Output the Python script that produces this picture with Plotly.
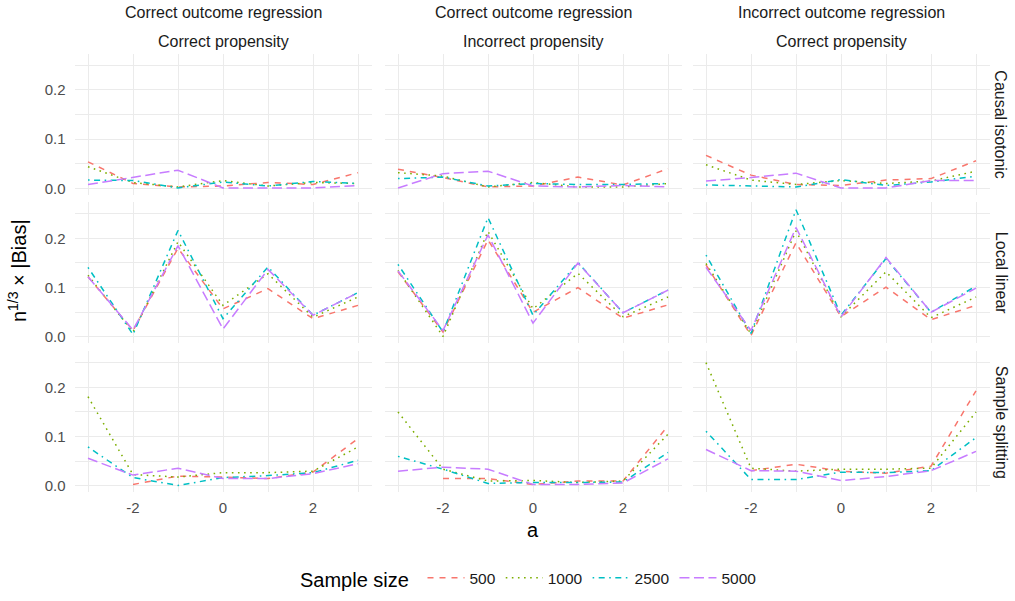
import plotly.graph_objects as go

W, H = 1015, 601

a_vals = [-3, -2, -1, 0, 1, 2, 3]
sample_sizes = ["500", "1000", "2500", "5000"]
col_top_labels = ["Correct outcome regression", "Correct outcome regression", "Incorrect outcome regression"]
col_bot_labels = ["Correct propensity", "Incorrect propensity", "Correct propensity"]
row_labels = ["Causal isotonic", "Local linear", "Sample splitting"]

# Row 1: Causal isotonic
iso_500 = [[0.054, 0.010, 0.003, 0.005, 0.012, 0.008, 0.032],
           [0.039, 0.022, 0.003, 0.005, 0.023, 0.007, 0.040],
           [0.067, 0.027, 0.008, 0.006, 0.017, 0.020, 0.056]]
iso_1000 = [[0.044, 0.012, 0.003, 0.016, 0.005, 0.012, 0.010],
            [0.032, 0.025, 0.003, 0.012, 0.003, 0.003, 0.010],
            [0.048, 0.017, 0.008, 0.016, 0.010, 0.015, 0.035]]
iso_2500 = [[0.017, 0.016, 0.001, 0.013, 0.005, 0.014, 0.010],
            [0.020, 0.023, 0.005, 0.010, 0.008, 0.008, 0.010],
            [0.007, 0.005, 0.003, 0.018, 0.006, 0.013, 0.025]]
iso_5000 = [[0.008, 0.022, 0.037, 0.001, 0.001, 0.001, 0.006],
            [0.001, 0.030, 0.035, 0.005, 0.003, 0.006, 0.003],
            [0.015, 0.022, 0.031, 0.001, 0.001, 0.016, 0.016]]

# Row 2: Local linear
ll_500 = [[0.122, 0.013, 0.180, 0.057, 0.098, 0.037, 0.064],
          [0.132, 0.010, 0.197, 0.050, 0.100, 0.038, 0.065],
          [0.146, 0.003, 0.191, 0.041, 0.101, 0.035, 0.064]]
ll_1000 = [[0.125, 0.010, 0.193, 0.064, 0.128, 0.040, 0.081],
           [0.135, 0.001, 0.214, 0.057, 0.129, 0.041, 0.081],
           [0.149, 0.006, 0.215, 0.041, 0.132, 0.039, 0.081]]
ll_2500 = [[0.141, 0.005, 0.216, 0.037, 0.142, 0.044, 0.090],
           [0.147, 0.010, 0.242, 0.044, 0.151, 0.049, 0.095],
           [0.166, 0.007, 0.258, 0.044, 0.159, 0.050, 0.103]]
ll_5000 = [[0.122, 0.014, 0.185, 0.016, 0.137, 0.044, 0.090],
           [0.134, 0.013, 0.207, 0.028, 0.150, 0.049, 0.095],
           [0.141, 0.013, 0.222, 0.041, 0.161, 0.050, 0.099]]

# Row 3: Sample splitting (500 missing at a = -3)
ss_500 = [[None, 0.003, 0.020, 0.018, 0.015, 0.028, 0.096],
          [None, 0.015, 0.015, 0.003, 0.010, 0.010, 0.122],
          [None, 0.031, 0.044, 0.030, 0.026, 0.040, 0.193]]
ss_1000 = [[0.181, 0.023, 0.018, 0.027, 0.027, 0.030, 0.079],
           [0.150, 0.034, 0.010, 0.011, 0.007, 0.010, 0.105],
           [0.250, 0.036, 0.030, 0.034, 0.034, 0.036, 0.150]]
ss_2500 = [[0.079, 0.017, 0.001, 0.017, 0.021, 0.027, 0.052],
           [0.060, 0.034, 0.005, 0.007, 0.007, 0.008, 0.068],
           [0.111, 0.013, 0.013, 0.028, 0.027, 0.031, 0.098]]
ss_5000 = [[0.056, 0.022, 0.036, 0.015, 0.015, 0.025, 0.045],
           [0.030, 0.038, 0.034, 0.003, 0.003, 0.006, 0.055],
           [0.074, 0.031, 0.030, 0.011, 0.019, 0.031, 0.070]]

series_by_row = [
    {"500": iso_500, "1000": iso_1000, "2500": iso_2500, "5000": iso_5000},
    {"500": ll_500, "1000": ll_1000, "2500": ll_2500, "5000": ll_5000},
    {"500": ss_500, "1000": ss_1000, "2500": ss_2500, "5000": ss_5000},
]

colors = {"500": "#F8766D", "1000": "#7CAE00", "2500": "#00BFC4", "5000": "#C77CFF"}
dashes = {"500": "6px,6px", "1000": "1.6px,4.5px", "2500": "1.6px,4.5px,6px,4.5px", "5000": "10px,4.5px"}

# panel geometry in window pixels
col_px = [(74.5, 371.5), (384.5, 681.5), (692.5, 989.5)]
row_px = [(54, 195.5), (203, 344.5), (352.5, 494)]


def px(xw):
    return xw / W


def py(yw):
    return 1 - yw / H


FONT = "Liberation Sans, Arial, sans-serif"
fig = go.Figure()
layout = dict(
    width=W, height=H, margin=dict(l=0, r=0, t=0, b=0),
    paper_bgcolor="white", plot_bgcolor="white",
    font=dict(family=FONT, color="#1A1A1A"),
    showlegend=True,
)

for r in range(3):
    for c in range(3):
        idx = r * 3 + c + 1
        xa = "x" if idx == 1 else f"x{idx}"
        ya = "y" if idx == 1 else f"y{idx}"
        for s in sample_sizes:
            fig.add_trace(go.Scatter(
                x=a_vals, y=series_by_row[r][s][c], mode="lines",
                line=dict(color=colors[s], dash=dashes[s], width=1.5),
                name=s, legendgroup=s, showlegend=(idx == 1),
                xaxis=xa, yaxis=ya, connectgaps=False,
            ))
        x0, x1 = col_px[c]
        y0, y1 = row_px[r]
        layout["xaxis" if idx == 1 else f"xaxis{idx}"] = dict(
            domain=[px(x0), px(x1)], anchor=ya, range=[-3.3, 3.3],
            tickvals=[-2, 0, 2], ticktext=["-2", "0", "2"],
            showticklabels=(r == 2), ticks="", ticklabelstandoff=5,
            showgrid=True, gridcolor="#EBEBEB", gridwidth=1.1,
            minor=dict(tickvals=[-3, -1, 1, 3], showgrid=True, gridcolor="#EBEBEB", gridwidth=0.6),
            zeroline=False, showline=False,
            tickfont=dict(size=15, color="#4D4D4D", family=FONT),
        )
        layout["yaxis" if idx == 1 else f"yaxis{idx}"] = dict(
            domain=[py(y1), py(y0)], anchor=xa, range=[-0.013, 0.273],
            tickvals=[0, 0.1, 0.2], ticktext=["0.0", "0.1", "0.2"],
            showticklabels=(c == 0), ticks="", ticklabelstandoff=8,
            showgrid=True, gridcolor="#EBEBEB", gridwidth=1.1,
            minor=dict(tickvals=[0.05, 0.15, 0.25], showgrid=True, gridcolor="#EBEBEB", gridwidth=0.6),
            zeroline=False, showline=False,
            tickfont=dict(size=15, color="#4D4D4D", family=FONT),
        )

annotations = []
for c in range(3):
    cx = px((col_px[c][0] + col_px[c][1]) / 2)
    annotations.append(dict(x=cx, y=py(13), xref="paper", yref="paper", text=col_top_labels[c],
                            showarrow=False, font=dict(size=16, color="#1A1A1A"), xanchor="center", yanchor="middle"))
    annotations.append(dict(x=cx, y=py(42), xref="paper", yref="paper", text=col_bot_labels[c],
                            showarrow=False, font=dict(size=16, color="#1A1A1A"), xanchor="center", yanchor="middle"))
for r in range(3):
    cy = py((row_px[r][0] + row_px[r][1]) / 2)
    annotations.append(dict(x=px(1001), y=cy, xref="paper", yref="paper", text=row_labels[r], textangle=90,
                            showarrow=False, font=dict(size=16, color="#1A1A1A"), xanchor="center", yanchor="middle"))
annotations.append(dict(x=px(17), y=py(272), xref="paper", yref="paper",
                        text="n<sup>1/3</sup> × |Bias|", textangle=-90, showarrow=False,
                        font=dict(size=20, color="#000000"), xanchor="center", yanchor="middle"))
annotations.append(dict(x=px(533), y=py(519), xref="paper", yref="paper", text="a", showarrow=False,
                        font=dict(size=20, color="#000000"), xanchor="center", yanchor="top"))
layout["annotations"] = annotations
layout["legend"] = dict(
    orientation="h", x=px(530), xanchor="center", y=py(581), yanchor="middle",
    title=dict(text="Sample size ", font=dict(size=20, color="#000000"), side="left"),
    font=dict(size=15.5, color="#1A1A1A"), itemwidth=37, tracegroupgap=0,
    bgcolor="rgba(0,0,0,0)",
)
fig.update_layout(**layout)
fig.write_html(
    "out.html",
    config={"displayModeBar": False},
    post_script="document.body.style.margin='0';document.body.style.overflow='hidden';",
)
